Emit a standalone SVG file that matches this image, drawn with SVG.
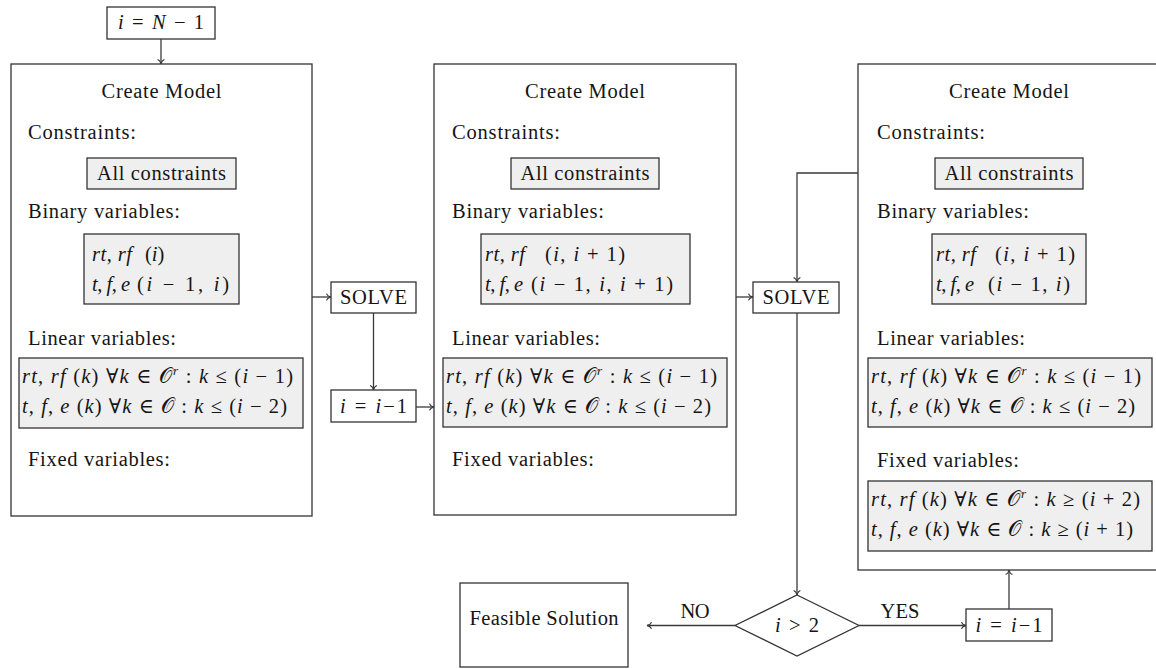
<svg xmlns="http://www.w3.org/2000/svg" width="1156" height="669" viewBox="0 0 1156 669">
  <style>
    .frame { fill: #ffffff; stroke: #333333; stroke-width: 1.3; }
    .shade { fill: #efefef; stroke: #333333; stroke-width: 1.3; }
    .link { fill: none; stroke: #3a3a3a; stroke-width: 1.3; }
    text { font-family: "Liberation Serif", "DejaVu Serif", serif; font-size: 20.5px; fill: #151515; }
    .mid { text-anchor: middle; }
    .it { font-style: italic; }
    .sup { font-size: 13px; font-style: italic; }
  </style>
  <defs>
    <marker id="tip" viewBox="-6 -5 7 10" markerWidth="7" markerHeight="10" refX="0" refY="0" orient="auto" markerUnits="userSpaceOnUse">
      <path d="M-4.5,-3.4 C-3.8,-1.4 -1.8,-0.4 0,0 C-1.8,0.4 -3.8,1.4 -4.5,3.4" fill="none" stroke="#3a3a3a" stroke-width="1.1"/>
    </marker>
  </defs>

  <!-- start value -->
  <g id="init">
    <rect class="frame" x="107" y="7" width="108" height="32"/>
    <text class="mid" x="161" y="29" textLength="86" lengthAdjust="spacing"><tspan class="it">i</tspan> = <tspan class="it">N</tspan> − 1</text>
  </g>

  <!-- first model -->
  <g id="model1">
    <rect class="frame" x="11" y="64" width="301" height="452"/>
    <text class="mid" x="161.5" y="98" textLength="120" lengthAdjust="spacing">Create Model</text>
    <text x="28" y="139" textLength="108" lengthAdjust="spacing">Constraints:</text>
    <rect class="shade" x="87" y="158" width="149" height="31"/>
    <text class="mid" x="161.5" y="180" textLength="129" lengthAdjust="spacing">All constraints</text>
    <text x="28" y="218" textLength="152" lengthAdjust="spacing">Binary variables:</text>
    <rect class="shade" x="84" y="234" width="155" height="70"/>
    <text x="92" y="261" textLength="40" lengthAdjust="spacing"><tspan class="it">rt</tspan>, <tspan class="it">rf</tspan></text>
    <text x="145" y="261">(<tspan class="it">i</tspan>)</text>
    <text x="92" y="291" textLength="38" lengthAdjust="spacing"><tspan class="it">t</tspan>, <tspan class="it">f</tspan>, <tspan class="it">e</tspan></text>
    <text x="137" y="291" textLength="92" lengthAdjust="spacing">(<tspan class="it">i</tspan> − 1, <tspan class="it">i</tspan>)</text>
    <text x="28" y="345" textLength="148" lengthAdjust="spacing">Linear variables:</text>
    <rect class="shade" x="19" y="358" width="284" height="70"/>
    <text x="22" y="383" textLength="271" lengthAdjust="spacing"><tspan class="it">rt</tspan>, <tspan class="it">rf</tspan> (<tspan class="it">k</tspan>) ∀<tspan class="it">k</tspan> ∈ 𝒪<tspan class="sup" dy="-8">r</tspan><tspan dy="8"> : </tspan><tspan class="it">k</tspan> ≤ (<tspan class="it">i</tspan> − 1)</text>
    <text x="22" y="413" textLength="265" lengthAdjust="spacing"><tspan class="it">t</tspan>, <tspan class="it">f</tspan>, <tspan class="it">e</tspan> (<tspan class="it">k</tspan>) ∀<tspan class="it">k</tspan> ∈ 𝒪 : <tspan class="it">k</tspan> ≤ (<tspan class="it">i</tspan> − 2)</text>
    <text x="28" y="466" textLength="142" lengthAdjust="spacing">Fixed variables:</text>
  </g>

  <!-- first solve step -->
  <g id="solve1">
    <rect class="frame" x="331" y="282" width="85" height="31"/>
    <text class="mid" x="373.5" y="304" textLength="67" lengthAdjust="spacing">SOLVE</text>
  </g>
  <g id="decrement1">
    <rect class="frame" x="331" y="390" width="85" height="32"/>
    <text class="mid" x="373.5" y="413" textLength="67" lengthAdjust="spacing"><tspan class="it">i</tspan> = <tspan class="it">i</tspan>−1</text>
  </g>

  <!-- second model -->
  <g id="model2">
    <rect class="frame" x="434" y="64" width="302" height="451"/>
    <text class="mid" x="585" y="98" textLength="120" lengthAdjust="spacing">Create Model</text>
    <text x="452" y="139" textLength="108" lengthAdjust="spacing">Constraints:</text>
    <rect class="shade" x="511" y="158" width="148" height="31"/>
    <text class="mid" x="585" y="180" textLength="129" lengthAdjust="spacing">All constraints</text>
    <text x="452" y="218" textLength="152" lengthAdjust="spacing">Binary variables:</text>
    <rect class="shade" x="481" y="234" width="209" height="70"/>
    <text x="485" y="261" textLength="40" lengthAdjust="spacing"><tspan class="it">rt</tspan>, <tspan class="it">rf</tspan></text>
    <text x="545" y="261" textLength="80" lengthAdjust="spacing">(<tspan class="it">i</tspan>, <tspan class="it">i</tspan> + 1)</text>
    <text x="485" y="291" textLength="38" lengthAdjust="spacing"><tspan class="it">t</tspan>, <tspan class="it">f</tspan>, <tspan class="it">e</tspan></text>
    <text x="531" y="291" textLength="142" lengthAdjust="spacing">(<tspan class="it">i</tspan> − 1, <tspan class="it">i</tspan>, <tspan class="it">i</tspan> + 1)</text>
    <text x="452" y="345" textLength="148" lengthAdjust="spacing">Linear variables:</text>
    <rect class="shade" x="443" y="358" width="284" height="69"/>
    <text x="446" y="383" textLength="271" lengthAdjust="spacing"><tspan class="it">rt</tspan>, <tspan class="it">rf</tspan> (<tspan class="it">k</tspan>) ∀<tspan class="it">k</tspan> ∈ 𝒪<tspan class="sup" dy="-8">r</tspan><tspan dy="8"> : </tspan><tspan class="it">k</tspan> ≤ (<tspan class="it">i</tspan> − 1)</text>
    <text x="446" y="413" textLength="265" lengthAdjust="spacing"><tspan class="it">t</tspan>, <tspan class="it">f</tspan>, <tspan class="it">e</tspan> (<tspan class="it">k</tspan>) ∀<tspan class="it">k</tspan> ∈ 𝒪 : <tspan class="it">k</tspan> ≤ (<tspan class="it">i</tspan> − 2)</text>
    <text x="452" y="466" textLength="142" lengthAdjust="spacing">Fixed variables:</text>
  </g>

  <!-- second solve step -->
  <g id="solve2">
    <rect class="frame" x="753" y="282" width="86" height="31"/>
    <text class="mid" x="796" y="304" textLength="67" lengthAdjust="spacing">SOLVE</text>
  </g>

  <!-- third model (runs past the right edge) -->
  <g id="model3">
    <rect class="frame" x="858" y="64" width="304" height="506"/>
    <text class="mid" x="1009" y="98" textLength="120" lengthAdjust="spacing">Create Model</text>
    <text x="877" y="139" textLength="108" lengthAdjust="spacing">Constraints:</text>
    <rect class="shade" x="935" y="158" width="148" height="31"/>
    <text class="mid" x="1009" y="180" textLength="129" lengthAdjust="spacing">All constraints</text>
    <text x="877" y="218" textLength="152" lengthAdjust="spacing">Binary variables:</text>
    <rect class="shade" x="932" y="234" width="154" height="70"/>
    <text x="936" y="261" textLength="40" lengthAdjust="spacing"><tspan class="it">rt</tspan>, <tspan class="it">rf</tspan></text>
    <text x="995" y="261" textLength="80" lengthAdjust="spacing">(<tspan class="it">i</tspan>, <tspan class="it">i</tspan> + 1)</text>
    <text x="936" y="291" textLength="38" lengthAdjust="spacing"><tspan class="it">t</tspan>, <tspan class="it">f</tspan>, <tspan class="it">e</tspan></text>
    <text x="988" y="291" textLength="82" lengthAdjust="spacing">(<tspan class="it">i</tspan> − 1, <tspan class="it">i</tspan>)</text>
    <text x="877" y="345" textLength="148" lengthAdjust="spacing">Linear variables:</text>
    <rect class="shade" x="868" y="358" width="284" height="69"/>
    <text x="871" y="383" textLength="270" lengthAdjust="spacing"><tspan class="it">rt</tspan>, <tspan class="it">rf</tspan> (<tspan class="it">k</tspan>) ∀<tspan class="it">k</tspan> ∈ 𝒪<tspan class="sup" dy="-8">r</tspan><tspan dy="8"> : </tspan><tspan class="it">k</tspan> ≤ (<tspan class="it">i</tspan> − 1)</text>
    <text x="871" y="413" textLength="264" lengthAdjust="spacing"><tspan class="it">t</tspan>, <tspan class="it">f</tspan>, <tspan class="it">e</tspan> (<tspan class="it">k</tspan>) ∀<tspan class="it">k</tspan> ∈ 𝒪 : <tspan class="it">k</tspan> ≤ (<tspan class="it">i</tspan> − 2)</text>
    <text x="877" y="467" textLength="142" lengthAdjust="spacing">Fixed variables:</text>
    <rect class="shade" x="868" y="481" width="284" height="70"/>
    <text x="871" y="506" textLength="269" lengthAdjust="spacing"><tspan class="it">rt</tspan>, <tspan class="it">rf</tspan> (<tspan class="it">k</tspan>) ∀<tspan class="it">k</tspan> ∈ 𝒪<tspan class="sup" dy="-8">r</tspan><tspan dy="8"> : </tspan><tspan class="it">k</tspan> ≥ (<tspan class="it">i</tspan> + 2)</text>
    <text x="871" y="536" textLength="262" lengthAdjust="spacing"><tspan class="it">t</tspan>, <tspan class="it">f</tspan>, <tspan class="it">e</tspan> (<tspan class="it">k</tspan>) ∀<tspan class="it">k</tspan> ∈ 𝒪 : <tspan class="it">k</tspan> ≥ (<tspan class="it">i</tspan> + 1)</text>
  </g>

  <!-- loop test -->
  <g id="test">
    <polygon class="frame" points="797,595 859,625.5 797,656 735,625.5"/>
    <text class="mid" x="797" y="632" textLength="44" lengthAdjust="spacing"><tspan class="it">i</tspan> &gt; 2</text>
  </g>
  <g id="result">
    <rect class="frame" x="460" y="583" width="168" height="84"/>
    <text class="mid" x="544" y="625" textLength="149" lengthAdjust="spacing">Feasible Solution</text>
  </g>
  <g id="decrement2">
    <rect class="frame" x="966" y="609" width="86" height="32"/>
    <text class="mid" x="1009" y="632" textLength="67" lengthAdjust="spacing"><tspan class="it">i</tspan> = <tspan class="it">i</tspan>−1</text>
  </g>

  <!-- connectors -->
  <g id="connectors">
    <line class="link" x1="161" y1="39" x2="161" y2="64" marker-end="url(#tip)"/>
    <line class="link" x1="312" y1="297" x2="331" y2="297" marker-end="url(#tip)"/>
    <line class="link" x1="373.5" y1="313" x2="373.5" y2="390" marker-end="url(#tip)"/>
    <line class="link" x1="416" y1="407" x2="434" y2="407" marker-end="url(#tip)"/>
    <line class="link" x1="736" y1="297" x2="753" y2="297" marker-end="url(#tip)"/>
    <polyline class="link" points="858,173 797,173 797,282" marker-end="url(#tip)"/>
    <line class="link" x1="797" y1="313" x2="797" y2="595" marker-end="url(#tip)"/>
    <line class="link" x1="859" y1="625.5" x2="966" y2="625.5" marker-end="url(#tip)"/>
    <line class="link" x1="735" y1="625.5" x2="647" y2="625.5" marker-end="url(#tip)"/>
    <line class="link" x1="1009" y1="609" x2="1009" y2="570" marker-end="url(#tip)"/>
    <text class="mid" x="695" y="618" textLength="29" lengthAdjust="spacing">NO</text>
    <text class="mid" x="900" y="618" textLength="39" lengthAdjust="spacing">YES</text>
  </g>
</svg>
